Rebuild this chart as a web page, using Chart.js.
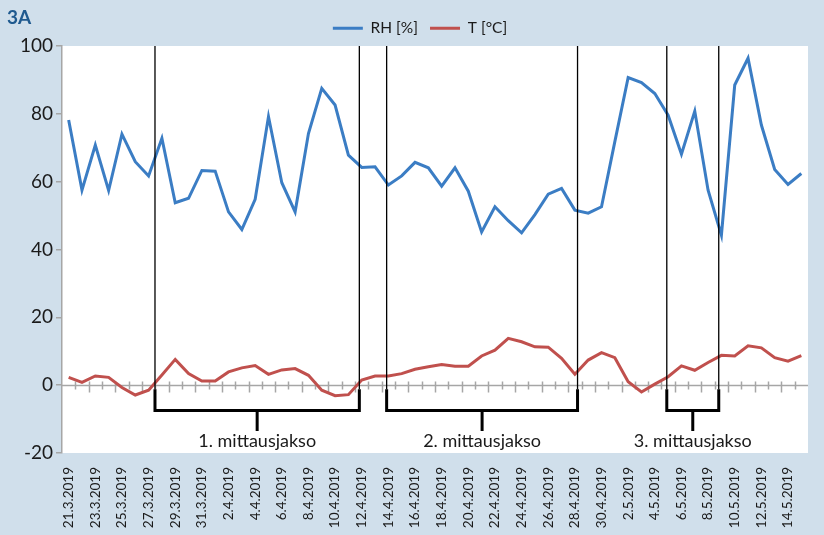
<!DOCTYPE html>
<html>
<head>
<meta charset="utf-8">
<title>3A</title>
<script src="https://cdn.jsdelivr.net/npm/chart.js@4.4.0/dist/chart.umd.min.js"></script>
<style>
  html, body { margin: 0; padding: 0; background: #d0dfeb; }
  canvas { display: block; }
</style>
</head>
<body>
<canvas id="chart" width="824" height="535"></canvas>
<script>
// daily values 21.3.2019 - 15.5.2019
const dates = [
    '21.3.2019', '22.3.2019', '23.3.2019', '24.3.2019', '25.3.2019', '26.3.2019', '27.3.2019',
    '28.3.2019', '29.3.2019', '30.3.2019', '31.3.2019',
    '1.4.2019', '2.4.2019', '3.4.2019', '4.4.2019', '5.4.2019', '6.4.2019', '7.4.2019',
    '8.4.2019', '9.4.2019', '10.4.2019', '11.4.2019', '12.4.2019', '13.4.2019', '14.4.2019',
    '15.4.2019', '16.4.2019', '17.4.2019', '18.4.2019', '19.4.2019', '20.4.2019', '21.4.2019',
    '22.4.2019', '23.4.2019', '24.4.2019', '25.4.2019', '26.4.2019', '27.4.2019', '28.4.2019',
    '29.4.2019', '30.4.2019',
    '1.5.2019', '2.5.2019', '3.5.2019', '4.5.2019', '5.5.2019', '6.5.2019', '7.5.2019',
    '8.5.2019', '9.5.2019', '10.5.2019', '11.5.2019', '12.5.2019', '13.5.2019', '14.5.2019',
    '15.5.2019'
];

const rh = [
    78.2, 57.5, 70.8, 57.4, 74.0, 65.9, 61.7, 72.8, 53.8, 55.1, 63.3,
    63.1, 51.1, 45.9, 54.8, 79.2, 59.7, 51.1, 74.2, 87.5, 82.6,
    67.8, 64.2, 64.4, 59.0, 61.7, 65.7, 64.1, 58.7, 64.1, 57.2,
    45.2, 52.6, 48.5, 44.9, 50.3, 56.3, 58.0, 51.6, 50.7, 52.6,
    71.8, 90.7, 89.2, 86.0, 79.6, 68.1, 80.8, 57.5, 44.2, 88.5,
    96.4, 76.7, 63.6, 59.2, 62.4
];

const temp = [
    2.3, 0.8, 2.7, 2.3, -0.7, -2.9, -1.5, 3.0, 7.6, 3.4, 1.2,
    1.2, 3.9, 5.1, 5.8, 3.2, 4.5, 4.9, 2.9, -1.5, -3.1,
    -2.8, 1.5, 2.7, 2.7, 3.4, 4.7, 5.4, 6.1, 5.6, 5.6,
    8.6, 10.3, 13.8, 12.8, 11.3, 11.2, 7.9, 3.2, 7.4, 9.6,
    8.1, 1.0, -2.0, 0.3, 2.5, 5.7, 4.4, 6.7, 8.8, 8.6,
    11.6, 11.0, 8.1, 7.1, 8.7
];

// measurement periods, as positions on the date axis (index units)
const periodStart = [6.48, 23.87, 44.9];
const periodEnd = [21.82, 38.2, 48.8];
const periodNames = ['1. mittausjakso', '2. mittausjakso', '3. mittausjakso'];

const yTicks = [-20, 0, 20, 40, 60, 80, 100];

const FONT = 'Lato, "Open Sans", sans-serif';

// light blue frame, white plot area and the "3A" heading
const backdrop = {
    id: 'backdrop',
    beforeDraw(chart) {
        const { ctx, chartArea: a } = chart;
        ctx.save();
        ctx.fillStyle = '#d0dfeb';
        ctx.fillRect(0, 0, chart.width, chart.height);
        ctx.fillStyle = '#ffffff';
        ctx.fillRect(a.left, a.top, a.right - a.left, a.bottom - a.top);
        ctx.fillStyle = '#1f5a8f';
        ctx.font = 'bold 19px ' + FONT;
        ctx.textBaseline = 'middle';
        ctx.fillText('3A', 7, 18);
        ctx.restore();
    }
};

// category axis drawn through zero, with tick marks between the days
const zeroAxis = {
    id: 'zeroAxis',
    beforeDatasetsDraw(chart) {
        const { ctx, chartArea: a, scales: { x, y } } = chart;
        const y0 = Math.round(y.getPixelForValue(0)) + 0.5;
        ctx.save();
        ctx.strokeStyle = '#a6a6a6';
        ctx.lineWidth = 1.5;
        ctx.beginPath();
        ctx.moveTo(a.left, y0);
        ctx.lineTo(a.right, y0);
        for (let i = 1; i < dates.length; i++) {
            const px = Math.round(x.getPixelForValue(i - 0.5)) + 0.5;
            ctx.moveTo(px, y0 - 4);
            ctx.lineTo(px, y0 + (i % 2 === 0 ? 7 : 4));
        }
        ctx.stroke();
        ctx.restore();
    }
};

// vertical period lines with brackets and labels
const periods = {
    id: 'periods',
    afterDatasetsDraw(chart) {
        const { ctx, chartArea: a, scales: { x, y } } = chart;
        const y0 = y.getPixelForValue(0);
        const yBar = y.getPixelForValue(-7.5);
        const yStub = y.getPixelForValue(-13.5);
        const yText = y.getPixelForValue(-16.5);
        ctx.save();
        ctx.strokeStyle = '#000000';
        periodNames.forEach((name, i) => {
            const x1 = x.getPixelForValue(periodStart[i]);
            const x2 = x.getPixelForValue(periodEnd[i]);
            const mid = (x1 + x2) / 2;

            ctx.lineWidth = 1.3;
            ctx.beginPath();
            ctx.moveTo(x1, a.top);
            ctx.lineTo(x1, y0 + 4);
            ctx.moveTo(x2, a.top);
            ctx.lineTo(x2, y0 + 4);
            ctx.stroke();

            ctx.lineWidth = 3;
            ctx.beginPath();
            ctx.moveTo(x1, y0 + 4);
            ctx.lineTo(x1, yBar);
            ctx.lineTo(x2, yBar);
            ctx.lineTo(x2, y0 + 4);
            ctx.moveTo(mid, yBar);
            ctx.lineTo(mid, yStub);
            ctx.stroke();

            ctx.fillStyle = '#1a1a1a';
            ctx.font = '18px ' + FONT;
            ctx.textAlign = 'center';
            ctx.textBaseline = 'middle';
            ctx.fillText(name, mid, yText);
        });
        ctx.restore();
    }
};

const ctx = document.getElementById('chart').getContext('2d');
const chart = new Chart(ctx, {
    type: 'line',
    data: {
        labels: dates,
        datasets: [
            {
                label: 'RH [%]',
                data: rh,
                borderColor: '#3b7dc4',
                backgroundColor: '#3b7dc4',
                borderWidth: 3,
                pointRadius: 0,
                tension: 0,
            },
            {
                label: 'T [°C]',
                data: temp,
                borderColor: '#c0504d',
                backgroundColor: '#c0504d',
                borderWidth: 3,
                pointRadius: 0,
                tension: 0,
            },
        ],
    },
    options: {
        responsive: false,
        animation: false,
        layout: {
            padding: { top: 8.5, right: 0, bottom: 0, left: 16 },
        },
        scales: {
            x: {
                offset: true,
                grid: { display: false },
                border: { display: false },
                ticks: {
                    autoSkip: false,
                    minRotation: 90,
                    maxRotation: 90,
                    padding: 6,
                    color: '#1a1a1a',
                    font: { family: FONT, size: 13.5 },
                    callback: (v, i) => (i % 2 === 0 ? dates[i] : ''),
                },
                afterFit: (scale) => { scale.height = 82; },
            },
            y: {
                min: -20,
                max: 100,
                afterBuildTicks: (scale) => {
                    scale.ticks = yTicks.map(v => ({ value: v }));
                },
                grid: {
                    drawOnChartArea: false,
                    drawTicks: true,
                    tickLength: 6,
                    color: '#a6a6a6',
                    lineWidth: 1.5,
                },
                border: { color: '#a6a6a6', width: 1.5 },
                ticks: {
                    padding: 3,
                    color: '#1a1a1a',
                    font: { family: FONT, size: 19 },
                },
                afterFit: (scale) => { scale.width = 46; },
            },
            // empty right-hand strip, keeps the plot clear of the frame edge
            yRight: {
                type: 'linear',
                position: 'right',
                display: true,
                grid: { display: false },
                border: { display: false },
                ticks: { display: false },
                afterFit: (scale) => { scale.width = 16; },
            },
        },
        plugins: {
            legend: {
                position: 'top',
                labels: {
                    usePointStyle: true,
                    pointStyle: 'line',
                    pointStyleWidth: 30,
                    padding: 12,
                    color: '#1a1a1a',
                    font: { family: FONT, size: 15.5 },
                },
            },
            tooltip: { enabled: false },
        },
    },
    plugins: [backdrop, zeroAxis, periods],
});
</script>
</body>
</html>
